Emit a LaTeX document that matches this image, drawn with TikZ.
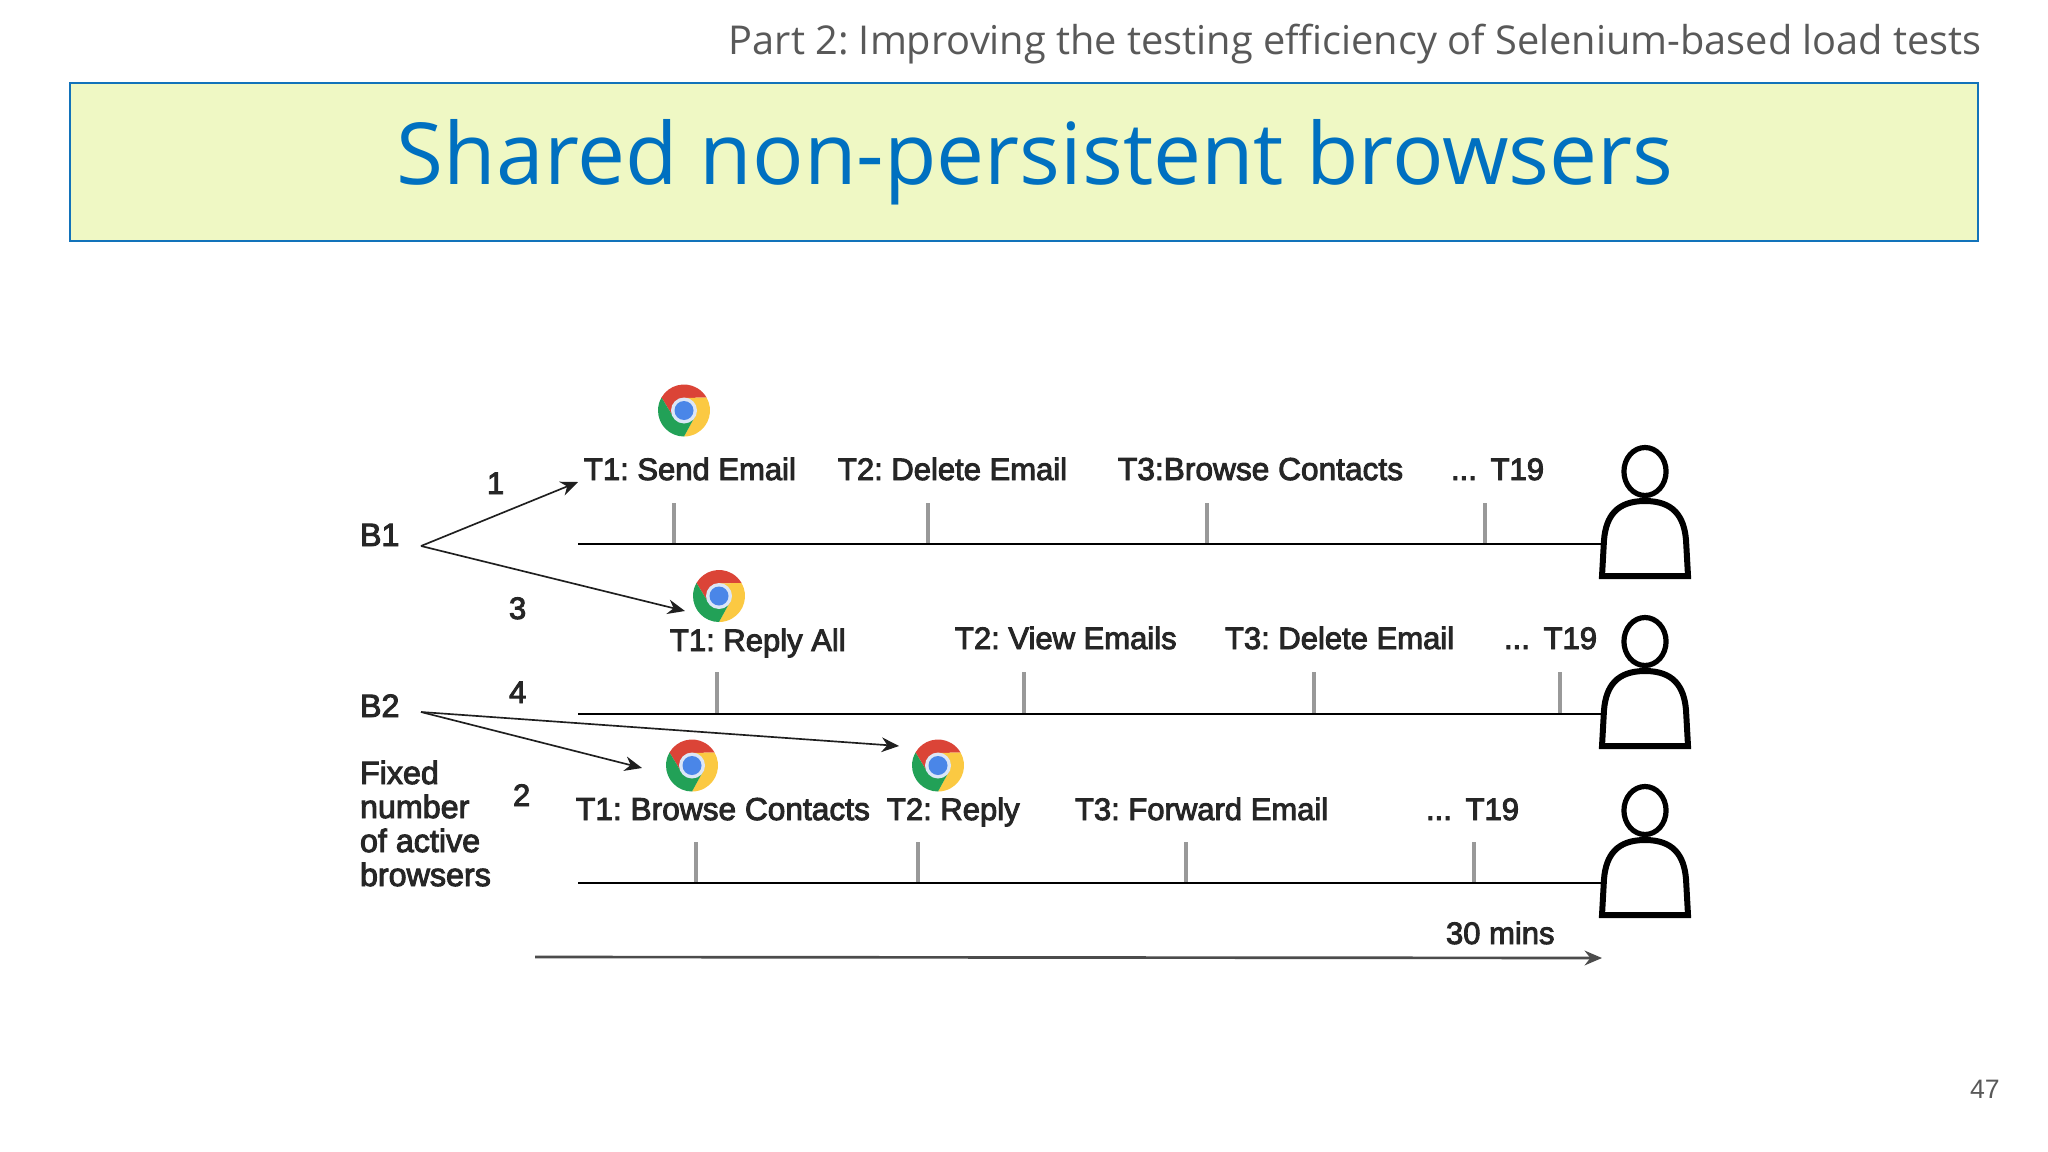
\documentclass[tikz,border=0pt]{standalone}
\usepackage{fontspec}
\setmainfont{Liberation Sans}
\newfontfamily\opensans{Open Sans}
\newfontfamily\diagfont[FakeBold=3]{Liberation Sans}
\usetikzlibrary{arrows.meta}
\frenchspacing
\definecolor{bannerfill}{HTML}{EFF8C4}
\definecolor{bannerline}{HTML}{1273BA}
\definecolor{titleblue}{HTML}{0070C0}
\definecolor{partgray}{HTML}{595959}
\definecolor{cred}{HTML}{DB4437}
\definecolor{cyellow}{HTML}{FBC942}
\definecolor{cgreen}{HTML}{22A157}
\definecolor{cblue}{HTML}{4A86E8}
\definecolor{cring}{HTML}{DCE6F6}
\tikzset{
  x=0.75pt,y=-0.75pt,
  lbl/.style={anchor=base west,inner sep=0pt,outer sep=0pt,text=black!85,font=\diagfont\fontsize{23.25pt}{26pt}\selectfont},
  widelbl/.style={lbl,font=\diagfont\fontsize{23.75pt}{26pt}\selectfont},
  sidelbl/.style={lbl,font=\diagfont\fontsize{24.2pt}{26pt}\selectfont},
  timeline/.style={draw=black,line width=1.5pt},
  tickmark/.style={draw=black!40,line width=2.8pt},
  link/.style={draw=black!88,line width=1.25pt,-{Stealth[length=13pt,width=11pt]}},
  chrome/.pic={
    \begin{scope}[x=0.75pt,y=0.75pt]
    \foreach \a/\c in {0/cred,-120/cyellow,-240/cgreen}{
      \fill[\c,rotate=\a] (150:26) arc[start angle=150,end angle=30,radius=26]
        -- (90:12.5) -- (0,0) -- (210:12.5) -- cycle;
    }
    \fill[cring] (0,0) circle[radius=13];
    \fill[cblue] (0,0) circle[radius=9.5];
    \end{scope}
  },
  person/.pic={
    \draw[black,line width=3.9pt] (0,-106.5) ellipse[x radius=15.8pt,y radius=18pt];
    \draw[black,line width=4.5pt,line join=miter] (-43,-2) -- (-41,-38)
      .. controls (-39,-62) and (-28,-77) .. (0,-77)
      .. controls (28,-77) and (39,-62) .. (41,-38) -- (43,-2) -- cycle;
  }
}
\begin{document}
\begin{tikzpicture}
\useasboundingbox (0,0) rectangle (2048,1152);
\fill[white] (0,0) rectangle (2048,1152);
% header
\node[anchor=base east,inner sep=0pt,text=partgray,font=\opensans\fontsize{29.8pt}{34pt}\selectfont] (part) at (1982,55) {Part 2: Improving the testing efficiency of Selenium-based load tests};
\node[draw=bannerline,fill=bannerfill,line width=1.5pt,minimum width=1431pt,minimum height=118.2pt,inner sep=0pt,anchor=north west] (banner) at (69,82) {};
\node[anchor=base,inner sep=0pt,text=titleblue,font=\opensans\fontsize{64.2pt}{70pt}\selectfont] (title) at (1035,185) {Shared non-persistent browsers};
\node[anchor=base east,inner sep=0pt,text=partgray,font=\fontsize{20pt}{24pt}\selectfont] (page) at (2000,1098) {47};

% timelines
\coordinate (s1) at (578,544); \coordinate (e1) at (1604,544);
\coordinate (s2) at (578,714); \coordinate (e2) at (1604,714);
\coordinate (s3) at (578,883); \coordinate (e3) at (1604,883);
\foreach \x in {674,928,1207,1485}{\draw[tickmark] (\x,503) -- (\x,544);}
\foreach \x in {717,1024,1314,1560}{\draw[tickmark] (\x,672) -- (\x,714);}
\foreach \x in {696,918,1186,1474}{\draw[tickmark] (\x,842) -- (\x,883);}
\draw[timeline] (s1) -- (e1);
\draw[timeline] (s2) -- (e2);
\draw[timeline] (s3) -- (e3);

% persons
\pic at (1645,578) {person};
\pic at (1645,748) {person};
\pic at (1645,917) {person};

% chrome icons
\pic at (684,410.5) {chrome};
\pic at (719,596) {chrome};
\pic at (692,765.5) {chrome};
\pic at (938,765.5) {chrome};

% labels row 1
\node[lbl] (a1) at (584,480) {T1: Send Email};
\node[lbl] (a2) at (838,480) {T2: Delete Email};
\node[widelbl] (a3) at (1118,480) {T3:Browse Contacts};
\node[lbl] (a4) at (1451,480) {...\, T19};
% row 2
\node[lbl] (b1t) at (670,651) {T1: Reply All};
\node[lbl] (b2t) at (955,649) {T2: View Emails};
\node[lbl] (b3t) at (1225,649) {T3: Delete Email};
\node[lbl] (b4t) at (1504,649) {...\, T19};
% row 3
\node[widelbl] (c1) at (576,820) {T1: Browse Contacts};
\node[lbl] (c2) at (887,820) {T2: Reply};
\node[lbl] (c3) at (1075,820) {T3: Forward Email};
\node[lbl] (c4) at (1426,820) {...\, T19};
% left
\node[sidelbl] (B1) at (360,546) {B1};
\node[sidelbl] (B2) at (360,717) {B2};
\node[lbl] (n1) at (487,494) {1};
\node[lbl] (n3) at (509,619) {3};
\node[lbl] (n4) at (509,703) {4};
\node[lbl] (n2) at (513,806) {2};
\node[sidelbl] (f1) at (360,784) {Fixed};
\node[sidelbl] (f2) at (360,818) {number};
\node[sidelbl] (f3) at (360,852) {of active};
\node[sidelbl] (f4) at (360,886) {browsers};
\node[lbl] (mins) at (1446,944) {30 mins};

% arrows
\coordinate (ap1) at (421,546);
\coordinate (ap2) at (421,712);
\coordinate (t1) at (578,482);
\coordinate (t3) at (685,611);
\coordinate (t2) at (642,768);
\coordinate (t4) at (899,746);
\coordinate (ts) at (535,957);
\coordinate (te) at (1602,958);
\draw[link] (ap1) -- (t1);
\draw[link] (ap1) -- (t3);
\draw[link] (ap2) -- (t2);
\draw[link] (ap2) -- (t4);
\draw[link,draw=black!70,line width=2pt] (ts) -- (te);
\end{tikzpicture}
\end{document}
